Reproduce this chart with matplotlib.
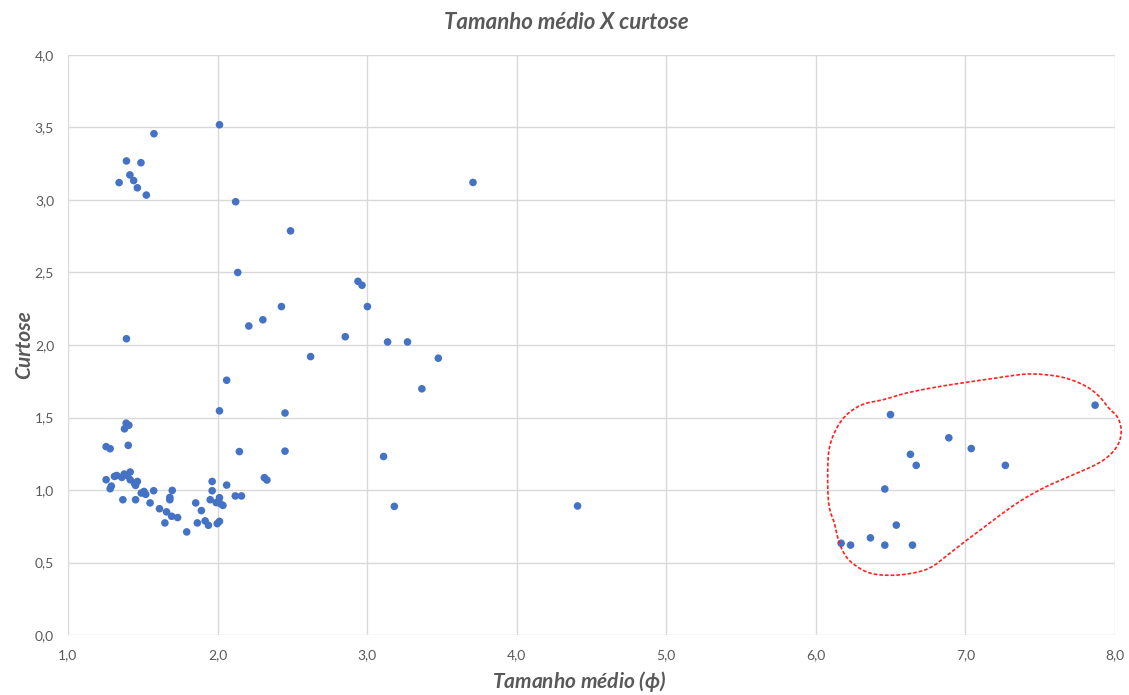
import numpy as np
import matplotlib
matplotlib.use("Agg")
import matplotlib.pyplot as plt
from matplotlib.ticker import FuncFormatter, MultipleLocator

# Mean grain size (phi) and kurtosis per sample
tamanho = [
    1.575, 2.013, 1.391, 1.488, 1.414, 1.342, 1.439, 1.464, 1.524, 2.121,
    1.391, 2.209, 2.303, 2.061, 2.013, 1.389, 1.407, 1.378, 1.403, 1.255,
    1.282, 2.146,
    2.488, 2.135, 2.939, 2.966, 3.002, 2.427, 2.854, 3.137, 3.270, 2.622,
    3.476, 3.366, 2.451, 3.110, 3.182, 3.708, 4.407,
    1.255, 1.282, 1.290, 1.311, 1.326, 1.360, 1.376, 1.396, 1.416, 1.416,
    1.445, 1.452, 1.464, 1.367, 1.452, 1.490, 1.508, 1.520, 1.549, 1.573,
    1.612, 1.648, 1.659, 1.681, 1.681, 1.697, 1.693, 1.733, 1.794, 1.854,
    1.865, 1.892, 1.917, 1.939, 1.964, 1.964, 1.951, 1.998, 2.013, 2.013,
    1.991, 2.018, 2.036, 2.061, 2.119, 2.160, 2.313, 2.330, 2.451,
    6.499, 7.867, 6.889, 7.039, 6.632, 6.671, 7.267, 6.461, 6.538, 6.365,
    6.169, 6.232, 6.461, 6.646,
]
curtose = [
    3.457, 3.519, 3.269, 3.257, 3.173, 3.120, 3.134, 3.084, 3.034, 2.988,
    2.043, 2.131, 2.174, 1.757, 1.546, 1.461, 1.447, 1.422, 1.308, 1.299,
    1.285, 1.265,
    2.787, 2.500, 2.439, 2.412, 2.265, 2.265, 2.057, 2.021, 2.021, 1.920,
    1.909, 1.698, 1.531, 1.231, 0.887, 3.121, 0.890,
    1.071, 1.009, 1.027, 1.094, 1.100, 1.087, 1.110, 1.100, 1.124, 1.071,
    1.045, 1.032, 1.059, 0.933, 0.933, 0.979, 0.990, 0.970, 0.911, 0.995,
    0.871, 0.773, 0.849, 0.949, 0.933, 0.997, 0.819, 0.810, 0.711, 0.911,
    0.773, 0.858, 0.787, 0.757, 1.059, 0.995, 0.933, 0.768, 0.784, 0.947,
    0.913, 0.906, 0.894, 1.034, 0.959, 0.959, 1.085, 1.069, 1.268,
    1.520, 1.585, 1.360, 1.286, 1.246, 1.170, 1.170, 1.007, 0.758, 0.670,
    0.633, 0.620, 0.620, 0.620,
]

# Hand-drawn outline around the fine-grained group (data coordinates)
contorno_x = [6.225, 6.315, 6.450, 6.585, 6.810, 7.035, 7.260, 7.417, 7.575,
              7.687, 7.822, 7.912, 7.957, 8.024, 8.047, 8.024, 7.957, 7.867,
              7.710, 7.530, 7.350, 7.170, 6.990, 6.877, 6.765, 6.630, 6.495,
              6.360, 6.259, 6.191, 6.146, 6.124, 6.094, 6.079, 6.079, 6.090,
              6.135, 6.180]
contorno_y = [1.539, 1.597, 1.620, 1.666, 1.712, 1.747, 1.781, 1.804, 1.793,
              1.770, 1.712, 1.631, 1.562, 1.505, 1.401, 1.309, 1.228, 1.170,
              1.101, 1.021, 0.917, 0.779, 0.640, 0.548, 0.456, 0.421, 0.409,
              0.421, 0.479, 0.548, 0.663, 0.779, 0.848, 0.963, 1.194, 1.309,
              1.424, 1.493]

titulo = "Tamanho médio X curtose"
rotulo_x = "Tamanho médio ($\\phi$)"
rotulo_y = "Curtose"

cinza_texto = "#595959"
cinza_grade = "#d9d9d9"
azul = "#4472C4"

plt.rcParams["font.family"] = ["Lato", "DejaVu Sans"]
plt.rcParams["mathtext.fontset"] = "custom"
plt.rcParams["mathtext.it"] = "Lato:italic:bold"

fig = plt.figure(figsize=(11.29, 6.95), dpi=100)
ax = fig.add_axes([0.0602, 0.0863, 0.9274, 0.8346])

ax.scatter(tamanho, curtose, s=30, color=azul, edgecolors="none", zorder=3)


def chaikin(xs, ys, n=4):
    pts = np.column_stack([xs, ys])
    for _ in range(n):
        nxt = np.roll(pts, -1, axis=0)
        q = 0.75 * pts + 0.25 * nxt
        r = 0.25 * pts + 0.75 * nxt
        pts = np.empty((2 * len(pts), 2))
        pts[0::2] = q
        pts[1::2] = r
    pts = np.vstack([pts, pts[:1]])
    return pts[:, 0], pts[:, 1]


cx, cy = chaikin(contorno_x, contorno_y)
ax.plot(cx, cy, color="#ff2020", lw=1.2, ls=(0, (2.2, 1.2)), zorder=4,
        clip_on=False)

ax.set_xlim(1.0, 8.0)
ax.set_ylim(0.0, 4.0)
ax.xaxis.set_major_locator(MultipleLocator(1.0))
ax.yaxis.set_major_locator(MultipleLocator(0.5))
fmt = FuncFormatter(lambda v, p: f"{v:.1f}".replace(".", ","))
ax.xaxis.set_major_formatter(fmt)
ax.yaxis.set_major_formatter(fmt)

ax.grid(True, color=cinza_grade, lw=1.0, zorder=0)
ax.set_axisbelow(True)
for s in ax.spines.values():
    s.set_visible(False)
ax.tick_params(length=0, labelsize=10, colors=cinza_texto, pad=10)

estilo = dict(fontweight="bold", fontstyle="italic", color=cinza_texto)
fig.text(0.513, 0.020, rotulo_x, ha="center", va="center", fontsize=15,
         **estilo)
fig.text(0.021, 0.504, rotulo_y, ha="center", va="center", fontsize=15,
         rotation=90, **estilo)
fig.text(0.502, 0.968, titulo, ha="center", va="center", fontsize=16,
         **estilo)

fig.savefig("out.png", dpi=100, facecolor="white")
